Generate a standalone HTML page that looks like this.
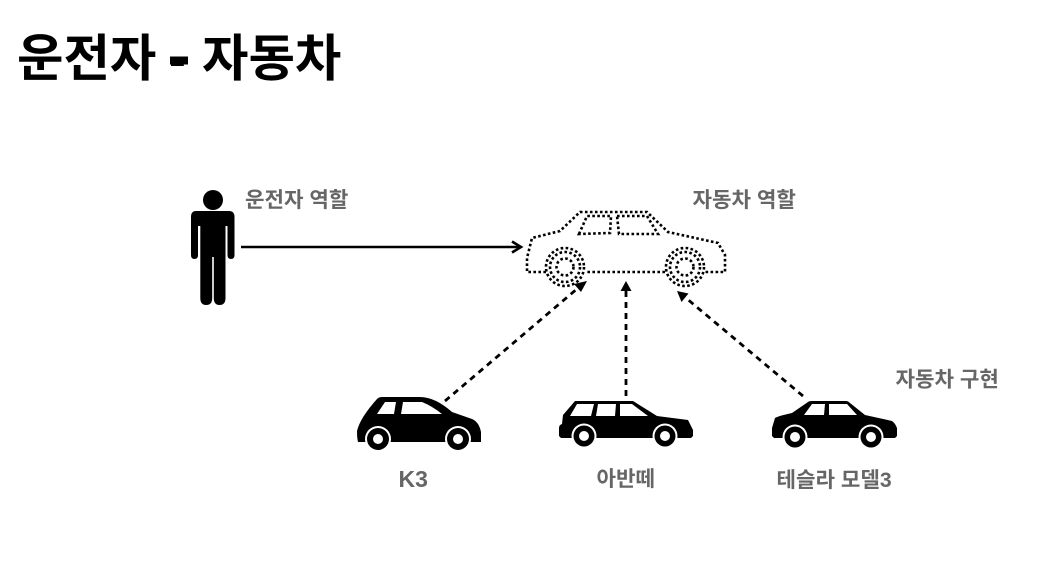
<!DOCTYPE html>
<html>
<head>
<meta charset="utf-8">
<style>
html,body{margin:0;padding:0;background:#fff;}
body{width:1040px;height:582px;overflow:hidden;position:relative;}
svg{position:absolute;left:0;top:0;}
text{font-family:"Liberation Sans","Noto Sans CJK KR",sans-serif;font-weight:700;}
.l{font-size:21.2px;fill:#666;}
</style>
</head>
<body>
<svg width="1040" height="582" viewBox="0 0 1040 582" xmlns="http://www.w3.org/2000/svg">
<text x="17" y="76" font-size="50.5" fill="#000">운전자</text>
<text x="169" y="76" font-size="50.5" fill="#000">-</text>
<rect x="170" y="56.500" width="18" height="8" fill="#000"/>
<text x="202" y="76" font-size="50.5" fill="#000">자동차</text>
<text class="l" x="245" y="207">운전자 역할</text>
<text class="l" x="692.500" y="207">자동차 역할</text>
<text class="l" x="895.500" y="386.500">자동차 구현</text>
<text class="l" x="398.500" y="487" style="font-size:23px">K3</text>
<text class="l" x="596.500" y="486">아반떼</text>
<text class="l" x="776.500" y="487">테슬라 모델3</text>

<!-- person -->
<circle cx="213" cy="200" r="10" fill="#000"/>
<path d="M196 211H229Q234.500 211 234.500 217V255Q234.500 259 231 259Q227.500 259 227.500 255V226H225.500V298Q225.500 305 219.500 305Q213.800 305 213.800 298V257H212.200V298Q212.200 305 206.200 305Q200.300 305 200.300 298V226H198V255Q198 259 194.500 259Q191 259 191 255V217Q191 211 196 211Z" fill="#000"/>

<!-- solid arrow -->
<line x1="241" y1="247" x2="520" y2="247" stroke="#000" stroke-width="2.400"/>
<path d="M512 241.500L521 247L512 252.500" fill="none" stroke="#000" stroke-width="2.600"/>

<!-- dotted car -->
<g fill="none" stroke="#000" stroke-width="2.600" stroke-dasharray="2.600 2.400">
<path d="M546 272H527V258L532 238L560 231L580 212H647L668 232L718 243L725 255V272H705M665 272H585"/>
<path d="M579 234L587 216H611L610 233Z"/>
<path d="M617 216H647L658 234H619Z"/>
<circle cx="565" cy="267" r="19"/>
<circle cx="565" cy="267" r="15"/>
<circle cx="565" cy="267" r="8.500"/>
<circle cx="685" cy="267" r="19"/>
<circle cx="685" cy="267" r="15"/>
<circle cx="685" cy="267" r="8.500"/>
</g>

<!-- dashed arrows -->
<g stroke="#000" stroke-width="2.800" stroke-dasharray="6 5" fill="none">
<line x1="445" y1="401" x2="578" y2="288"/>
<line x1="626" y1="396" x2="626" y2="290"/>
<line x1="803" y1="396" x2="686" y2="298"/>
</g>
<path d="M587 281L581 292L574 284Z" fill="#000"/>
<path d="M626 281L631.500 291H620.500Z" fill="#000"/>
<path d="M677 291L688.500 293.500L681.500 302Z" fill="#000"/>

<!-- K3 -->
<path d="M357 431Q360 418 377 399Q379 397 382 397H420Q435 397 452 412L472 419Q479 422 481 432V442H358Q357 438 357 431Z" fill="#000"/>
<path d="M377 414L385 402H396L394 414ZM401 414L403 402H422Q432 406 442 414Z" fill="#fff"/>
<circle cx="378" cy="439" r="13" fill="#fff"/><circle cx="378" cy="439" r="11" fill="#000"/><circle cx="378" cy="439" r="5" fill="#fff"/>
<circle cx="458" cy="439" r="13" fill="#fff"/><circle cx="458" cy="439" r="11" fill="#000"/><circle cx="458" cy="439" r="5" fill="#fff"/>

<!-- Avante -->
<path d="M559 428Q559 425 562 424L563 415L575 401H633L657 416L688 420L693 430V436L691 438H561L559 436Z" fill="#000"/>
<path d="M570 416L577 404H594L591 416ZM596 416L598 404H616L615 416ZM620 416V404H632L648 416Z" fill="#fff"/>
<circle cx="584" cy="436" r="12.500" fill="#fff"/><circle cx="584" cy="436" r="10.500" fill="#000"/><circle cx="584" cy="436" r="5" fill="#fff"/>
<circle cx="665" cy="436" r="12.500" fill="#fff"/><circle cx="665" cy="436" r="10.500" fill="#000"/><circle cx="665" cy="436" r="5" fill="#fff"/>

<!-- Model 3 -->
<path d="M772 428L775 418Q778 416 792 413L808 402Q809 401 812 401H846Q848 401 850 403L865 415L892 421Q895 423 897 428V436L895 438H774L772 436Z" fill="#000"/>
<path d="M804 415L812 404H825L824 415ZM829 415V404H847L857 415Z" fill="#fff"/>
<circle cx="795" cy="437" r="12.500" fill="#fff"/><circle cx="795" cy="437" r="10.500" fill="#000"/><circle cx="795" cy="437" r="5" fill="#fff"/>
<circle cx="871" cy="437" r="12.500" fill="#fff"/><circle cx="871" cy="437" r="10.500" fill="#000"/><circle cx="871" cy="437" r="5" fill="#fff"/>
</svg>
</body>
</html>
